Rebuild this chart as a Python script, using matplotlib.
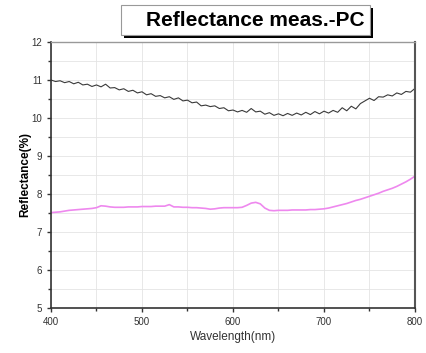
import matplotlib
matplotlib.use('Agg')
import matplotlib.pyplot as plt
from matplotlib.patches import Rectangle

plt.rcParams['font.family'] = ['Liberation Sans', 'DejaVu Sans']

# wavelength grid (nm), read every 5 nm off the picture
wavelength = list(range(400, 805, 5))

# upper (dark) curve, noisy trace
refl_upper = [11.00, 10.96, 10.98, 10.93, 10.96, 10.90, 10.94, 10.87, 10.89, 10.83,
              10.87, 10.82, 10.89, 10.79, 10.80, 10.74, 10.77, 10.70, 10.73, 10.66,
              10.69, 10.61, 10.64, 10.57, 10.59, 10.53, 10.56, 10.49, 10.53, 10.45,
              10.47, 10.40, 10.42, 10.32, 10.34, 10.30, 10.32, 10.25, 10.27, 10.19,
              10.21, 10.16, 10.20, 10.15, 10.25, 10.16, 10.18, 10.10, 10.14, 10.07,
              10.11, 10.06, 10.12, 10.07, 10.13, 10.08, 10.15, 10.09, 10.17, 10.11,
              10.18, 10.13, 10.20, 10.15, 10.27, 10.19, 10.31, 10.24, 10.38, 10.45,
              10.52, 10.46, 10.56, 10.55, 10.61, 10.58, 10.66, 10.62, 10.70, 10.68,
              10.78]

# lower (pink) curve
refl_lower = [7.51, 7.52, 7.53, 7.55, 7.57, 7.58, 7.59, 7.60, 7.61, 7.62,
              7.64, 7.69, 7.68, 7.66, 7.65, 7.65, 7.65, 7.66, 7.66, 7.66,
              7.67, 7.67, 7.67, 7.68, 7.68, 7.68, 7.72, 7.66, 7.66, 7.65,
              7.65, 7.64, 7.64, 7.63, 7.62, 7.60, 7.61, 7.63, 7.64, 7.64,
              7.64, 7.64, 7.65, 7.70, 7.76, 7.78, 7.74, 7.63, 7.57, 7.56,
              7.57, 7.57, 7.57, 7.58, 7.58, 7.58, 7.58, 7.59, 7.59, 7.60,
              7.61, 7.63, 7.66, 7.69, 7.72, 7.75, 7.79, 7.83, 7.86, 7.90,
              7.94, 7.98, 8.02, 8.07, 8.11, 8.15, 8.20, 8.26, 8.32, 8.39,
              8.47]

fig = plt.figure(figsize=(4.27, 3.53), dpi=100)
ax = fig.add_axes([0.1194, 0.1275, 0.8525, 0.7535])

ax.plot(wavelength, refl_upper, color='#3a3a3a', lw=0.8)
ax.plot(wavelength, refl_lower, color='#ee88ee', lw=1.2)

ax.set_xlim(400, 800)
ax.set_ylim(5, 12)
ax.set_xticks(range(400, 801, 100))
ax.set_xticks(range(450, 800, 100), minor=True)
ax.set_yticks(range(5, 13))
ax.set_yticks([5.5 + i for i in range(7)], minor=True)
ax.grid(True, which='both', color='#e4e4e4', lw=0.6)
ax.set_axisbelow(True)

ax.tick_params(which='both', direction='out', labelsize=7, labelcolor='#333333', color='#333333')
ax.tick_params(which='major', length=3, width=1)
ax.tick_params(which='minor', length=2, width=1)

for side in ['left', 'bottom']:
    ax.spines[side].set_color('#333333')
    ax.spines[side].set_linewidth(1.2)
ax.spines['right'].set_color('#555555')
ax.spines['right'].set_linewidth(1.5)
ax.spines['top'].set_color('#999999')
ax.spines['top'].set_linewidth(1.0)

ax.set_xlabel('Wavelength(nm)', fontsize=8.5, color='#333333', labelpad=3)
ax.set_ylabel('Reflectance(%)', fontsize=8.5, fontweight='bold', labelpad=0)

# title box with drop shadow
W, H = 427.0, 353.0
x0, y0, bw, bh = 121 / W, 1 - 35 / H, 249 / W, 30 / H
fig.patches.append(Rectangle((x0 + 3 / W, y0 - 3 / H), bw, bh, transform=fig.transFigure,
                             facecolor='black', edgecolor='none'))
fig.patches.append(Rectangle((x0, y0), bw, bh, transform=fig.transFigure,
                             facecolor='white', edgecolor='#999999', lw=0.8))
fig.text(x0 + bw - 5 / W, y0 + bh / 2, 'Reflectance meas.-PC', ha='right', va='center',
         fontsize=15, fontweight='bold')

fig.savefig('out.png', dpi=100)
